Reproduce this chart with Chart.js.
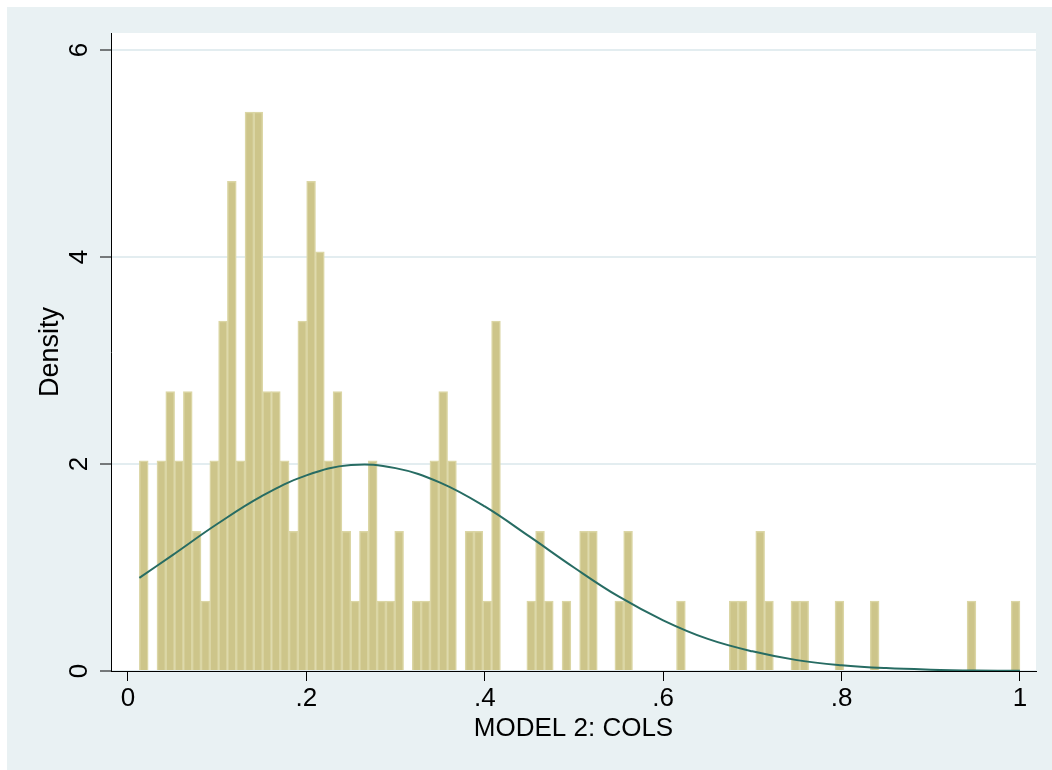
<!DOCTYPE html>
<html>
<head>
<meta charset="utf-8">
<script src="https://cdn.jsdelivr.net/npm/chart.js@4.4.0/dist/chart.umd.min.js"></script>
<style>
  html, body { margin: 0; padding: 0; background: #ffffff; }
  #wrap { width: 1052px; height: 770px; position: relative; }
</style>
</head>
<body>
<div id="wrap"><canvas id="myChart"></canvas></div>
<script>
// histogram bins (start of first bin, bin width) and density of each bin
var binStart = 0.0128;
var binWidth = 0.009872;
var density = [
  2.03, 0, 2.03, 2.70, 2.03, 2.70, 1.35, 0.675, 2.03, 3.38,
  4.73, 2.03, 5.40, 5.40, 2.70, 2.70, 2.03, 1.35, 3.38, 4.73,
  4.05, 2.03, 2.70, 1.35, 0.675, 1.35, 2.03, 0.675, 0.675, 1.35,
  0, 0.675, 0.675, 2.03, 2.70, 2.03, 0, 1.35, 1.35, 0.675,
  3.38, 0, 0, 0, 0.675, 1.35, 0.675, 0, 0.675, 0,
  1.35, 1.35, 0, 0, 0.675, 1.35, 0, 0, 0, 0,
  0, 0.675, 0, 0, 0, 0, 0, 0.675, 0.675, 0,
  1.35, 0.675, 0, 0, 0.675, 0.675, 0, 0, 0, 0.675,
  0, 0, 0, 0.675, 0, 0, 0, 0, 0, 0,
  0, 0, 0, 0, 0.675, 0, 0, 0, 0, 0.675
];
// normal density curve
var curveX = [0.0128, 0.05, 0.10, 0.15, 0.20, 0.25, 0.30, 0.35, 0.40, 0.45, 0.50,
              0.55, 0.60, 0.65, 0.70, 0.75, 0.80, 0.85, 0.90, 0.95, 1.00];
var curveY = [0.90, 1.12, 1.42, 1.69, 1.89, 1.99, 1.96, 1.82, 1.59, 1.30, 1.00,
              0.72, 0.49, 0.31, 0.19, 0.105, 0.056, 0.028, 0.013, 0.005, 0.002];
var xTicks = [0, 0.2, 0.4, 0.6, 0.8, 1];
var xTickLabels = ["0", ".2", ".4", ".6", ".8", "1"];
var yTicks = [0, 2, 4, 6];
var yTickLabels = ["0", "2", "4", "6"];

var barPoints = density.map(function (d, i) {
  return { x: binStart + (i + 0.5) * binWidth, y: d };
});
var curvePoints = curveX.map(function (x, i) {
  return { x: x, y: curveY[i] };
});

var FONT = "'Liberation Sans', Arial, Helvetica, sans-serif";

var bgPlugin = {
  id: "bg",
  beforeDraw: function (chart) {
    var ctx = chart.ctx, a = chart.chartArea;
    ctx.save();
    ctx.fillStyle = "#ffffff";
    ctx.fillRect(0, 0, chart.width, chart.height);
    ctx.fillStyle = "#e9f1f3";
    ctx.fillRect(7, 7, chart.width - 7, chart.height - 7);
    ctx.fillStyle = "#ffffff";
    ctx.fillRect(a.left, a.top, a.right - a.left, a.bottom - a.top);
    ctx.restore();
  }
};

new Chart("myChart", {
  type: "bar",
  data: {
    datasets: [
      {
        type: "line",
        data: curvePoints,
        borderColor: "#276c63",
        borderWidth: 2,
        pointRadius: 0,
        tension: 0.4,
        fill: false,
        order: 0
      },
      {
        type: "bar",
        data: barPoints,
        backgroundColor: "#cdc58a",
        borderColor: "#dbd6a5",
        borderWidth: 1.5,
        barPercentage: 1,
        categoryPercentage: 1,
        order: 1
      }
    ]
  },
  plugins: [bgPlugin],
  options: {
    responsive: true,
    maintainAspectRatio: false,
    animation: false,
    layout: { padding: { left: 0, top: 33, right: 16, bottom: 0 } },
    plugins: { legend: { display: false }, tooltip: { enabled: false } },
    scales: {
      x: {
        type: "linear",
        min: -0.019,
        max: 1.018,
        offset: false,
        afterFit: function (s) { s.height = 99; },
        afterBuildTicks: function (s) {
          s.ticks = xTicks.map(function (v) { return { value: v }; });
        },
        grid: {
          offset: false,
          drawOnChartArea: false,
          drawTicks: true,
          tickLength: 10,
          tickColor: "#000000",
          tickWidth: 1
        },
        border: { display: true, color: "#000000", width: 1 },
        ticks: {
          padding: 2,
          color: "#000000",
          font: { family: FONT, size: 26 },
          maxRotation: 0,
          callback: function (v) { return xTickLabels[xTicks.indexOf(v)]; }
        },
        title: {
          display: true,
          text: "MODEL 2: COLS",
          color: "#000000",
          font: { family: FONT, size: 26 },
          padding: { top: 0, bottom: 26 }
        }
      },
      y: {
        type: "linear",
        min: 0,
        max: 6.164,
        afterFit: function (s) { s.width = 111; },
        afterBuildTicks: function (s) {
          s.ticks = yTicks.map(function (v) { return { value: v }; });
        },
        grid: {
          color: "#e3edf0",
          lineWidth: 2,
          drawTicks: true,
          tickLength: 11,
          tickColor: "#000000",
          tickWidth: 1
        },
        border: { display: true, color: "#000000", width: 1 },
        ticks: {
          padding: 13,
          color: "#000000",
          minRotation: 90,
          maxRotation: 90,
          crossAlign: "center",
          font: { family: FONT, size: 26 },
          callback: function (v) { return yTickLabels[yTicks.indexOf(v)]; }
        },
        title: {
          display: true,
          text: "Density",
          color: "#000000",
          font: { family: FONT, size: 27 },
          padding: { top: 34, bottom: 0 }
        }
      }
    }
  }
});
</script>
</body>
</html>
